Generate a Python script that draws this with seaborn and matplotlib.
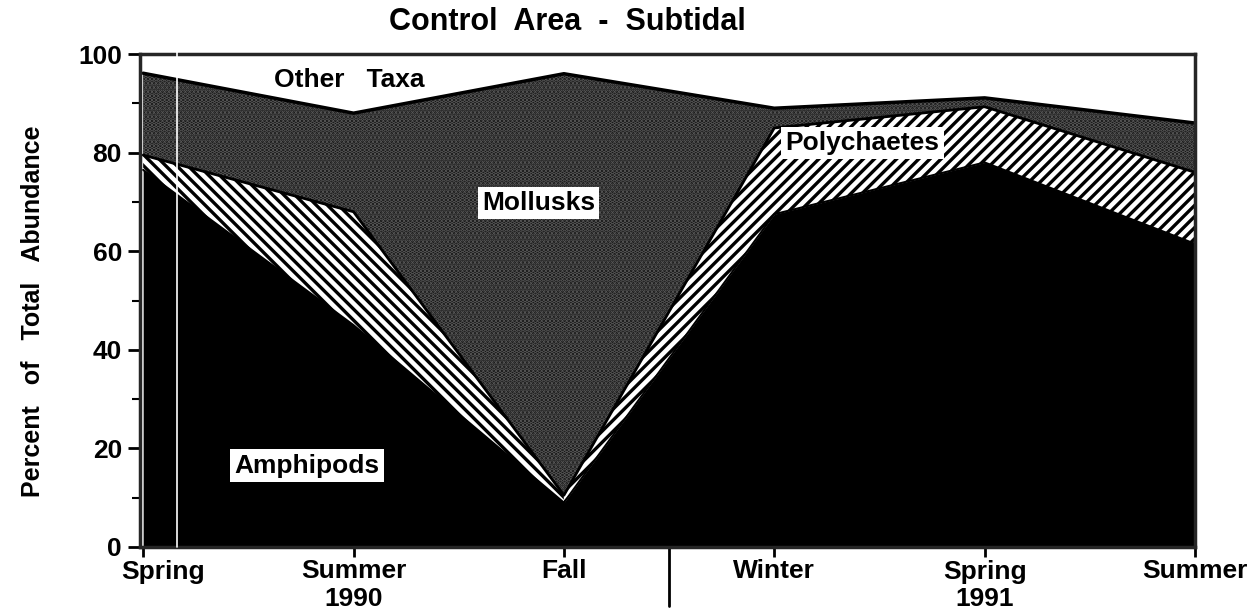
import matplotlib
matplotlib.use("Agg")
import matplotlib.pyplot as plt
import matplotlib.transforms as mtransforms
from matplotlib.ticker import MultipleLocator
import seaborn as sns
import numpy as np

# Percent of total abundance per sampling season (stacked bottom to top)
seasons = ["Spring", "Summer\n1990", "Fall", "Winter", "Spring\n1991", "Summer"]
amphipods = [76.5, 45, 9, 67.5, 78, 61.5]
polychaetes = [3, 23, 1.5, 17.5, 11.3, 14.5]
mollusks = [16.6, 20, 85.5, 4, 1.8, 10]
# other taxa fill the rest up to 100

sns.set_style("ticks")
plt.rcParams["font.family"] = ["Liberation Sans", "DejaVu Sans"]
plt.rcParams["text.color"] = "black"
plt.rcParams["xtick.color"] = "black"
plt.rcParams["ytick.color"] = "black"
plt.rcParams["hatch.linewidth"] = 2.4

x = np.arange(len(seasons))
amph_top = np.array(amphipods)
poly_top = amph_top + np.array(polychaetes)
moll_top = poly_top + np.array(mollusks)

fig = plt.figure(figsize=(12.52, 6.15), dpi=100)
ax = fig.add_axes([140 / 1252, 68 / 615, 1055 / 1252, 493 / 615])

# amphipods: solid black
ax.fill_between(x, 0, amph_top, color="black", lw=0)
# polychaetes: diagonal hatching, direction changes after Fall like the original
ax.fill_between(x[:3], amph_top[:3], poly_top[:3], facecolor="white",
                edgecolor="black", hatch="\\\\\\", lw=0)
ax.fill_between(x[2:], amph_top[2:], poly_top[2:], facecolor="white",
                edgecolor="black", hatch="///", lw=0)
# mollusks: dark stipple
ax.fill_between(x, poly_top, moll_top, facecolor="#111111",
                edgecolor="#5a5a5a", hatch="....", lw=0)

sns.lineplot(x=x, y=amph_top, color="black", lw=1.5, ax=ax)
sns.lineplot(x=x, y=poly_top, color="black", lw=2, ax=ax)
sns.lineplot(x=x, y=moll_top, color="black", lw=2.5, ax=ax)

ax.set_xlim(-0.015, 5)
ax.set_ylim(0, 100)
ax.set_xticks(x)
ax.set_xticklabels(seasons)
ax.yaxis.set_major_locator(MultipleLocator(20))
ax.yaxis.set_minor_locator(MultipleLocator(10))
ax.tick_params(axis="y", which="major", length=9, width=2, labelsize=19, pad=4)
ax.tick_params(axis="y", which="minor", length=6, width=1.5)
ax.tick_params(axis="x", length=7, width=2, labelsize=19, pad=2)
for lbl in ax.get_xticklabels() + ax.get_yticklabels():
    lbl.set_fontweight("bold")
# first label sits a bit right of its tick in the original
first = ax.get_xticklabels()[0]
first.set_transform(first.get_transform() +
                    mtransforms.ScaledTranslation(0.2, 0, fig.dpi_scale_trans))
for s in ax.spines.values():
    s.set_linewidth(2.5)
ax.set_xlabel("")
ax.set_ylabel("")

# year divider below the axis
trans = mtransforms.blended_transform_factory(ax.transData, ax.transAxes)
ax.plot([2.5, 2.5], [0, -0.12], transform=trans, color="black", lw=2, clip_on=False)
# thin white scan line near the left edge
ax.plot([0.16, 0.16], [0, 1.005], transform=trans, color="white", lw=1.2,
        clip_on=False, zorder=5)

box = dict(facecolor="white", edgecolor="none", pad=3)
ax.text(0.98, 94.7, "Other   Taxa", ha="center", va="center", fontsize=19,
        fontweight="bold")
ax.text(1.88, 69.8, "Mollusks", ha="center", va="center", fontsize=19,
        fontweight="bold", bbox=box, zorder=6)
ax.text(0.78, 16.5, "Amphipods", ha="center", va="center", fontsize=19,
        fontweight="bold", bbox=box, zorder=6)
ax.text(3.42, 82, "Polychaetes", ha="center", va="center", fontsize=19,
        fontweight="bold", bbox=box, zorder=6)

fig.text(0.453, 0.965, "Control  Area  -  Subtidal", ha="center", va="center",
         fontsize=22, fontweight="bold")
fig.text(0.026, 0.494, "Percent   of   Total   Abundance", rotation=90, ha="center",
         va="center", fontsize=18, fontweight="bold")

fig.savefig("out.png", dpi=100)
